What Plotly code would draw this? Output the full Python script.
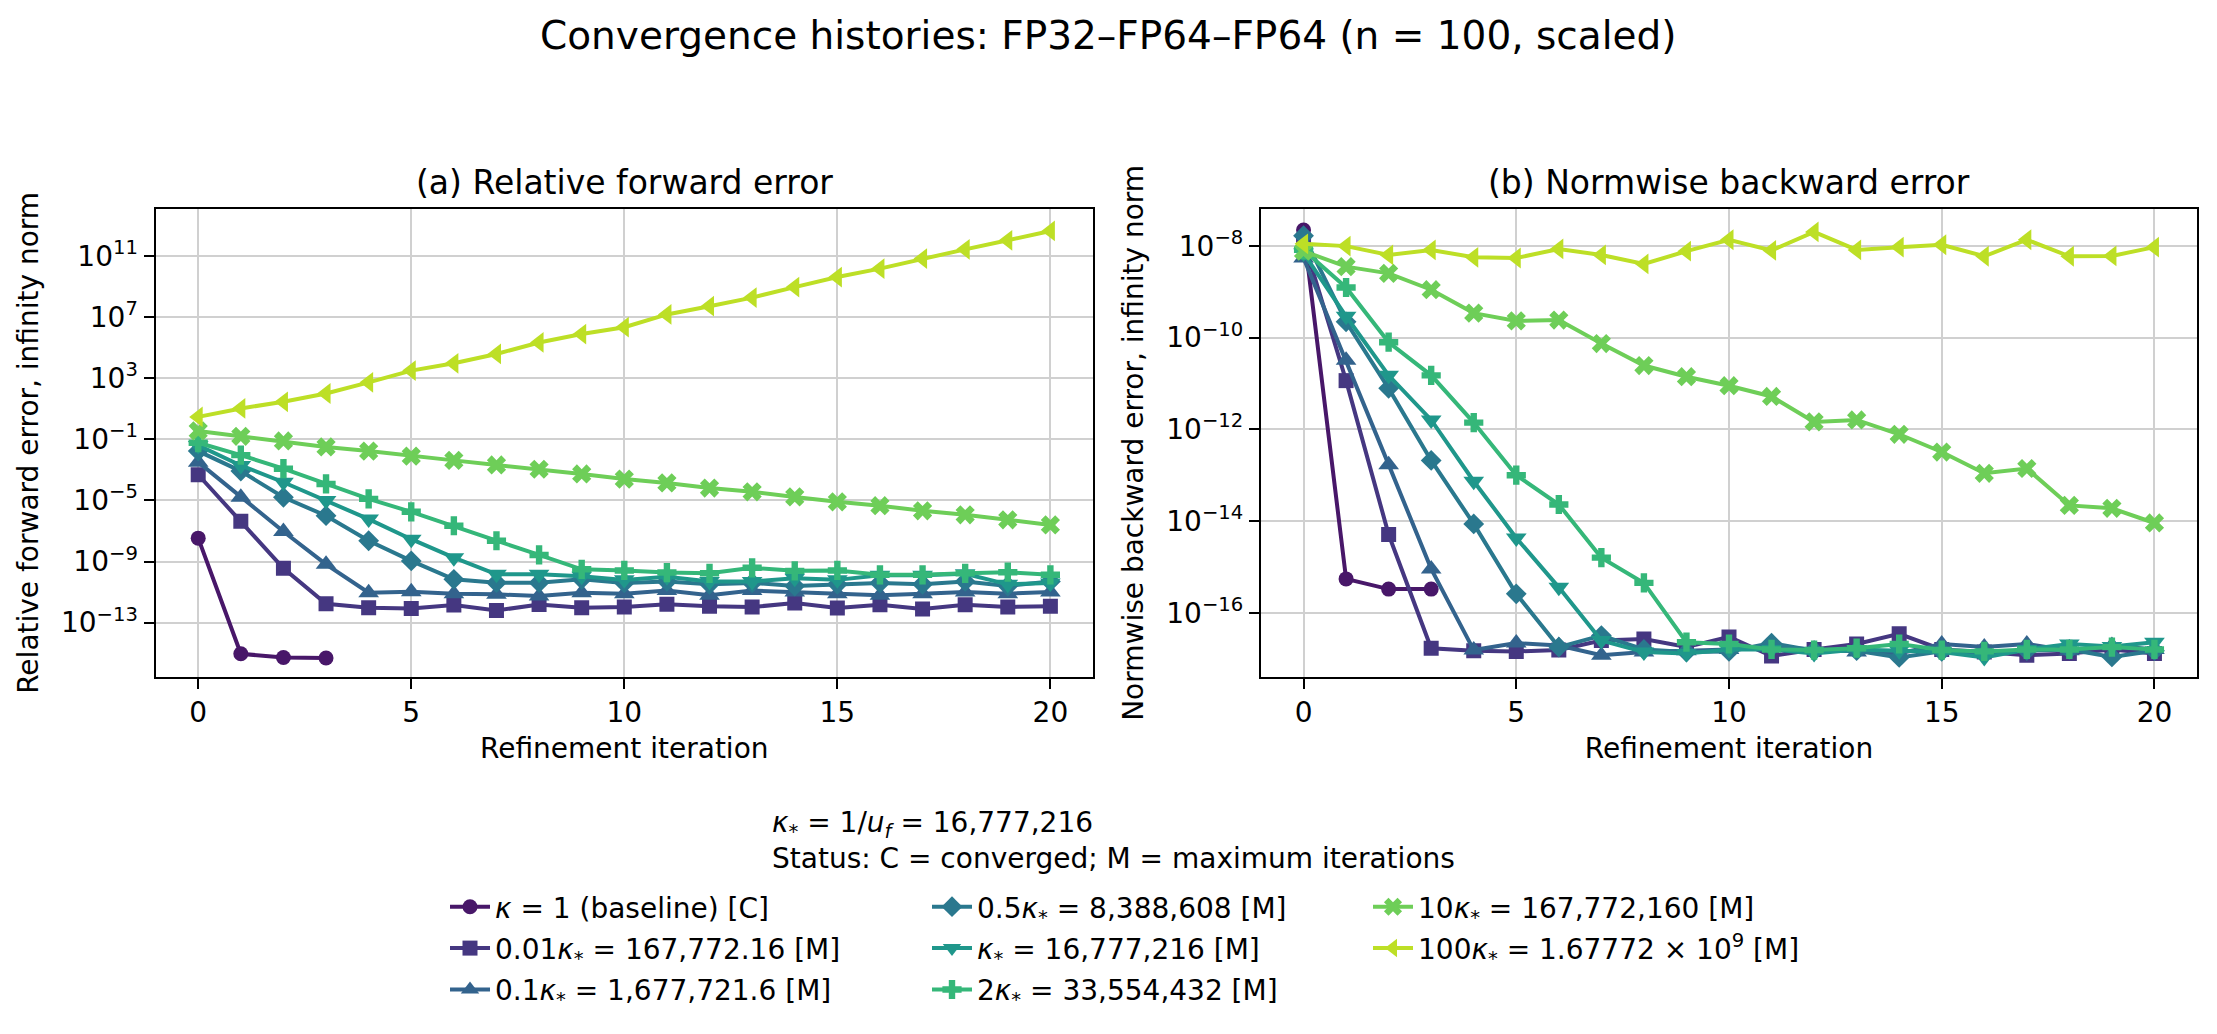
import plotly.graph_objects as go

# Refinement iterations
iters = list(range(21))
iters_base = [0, 1, 2, 3]

# (a) relative forward error, infinity norm
fwd_base = [3.4e-08, 9.1e-16, 5.2e-16, 4.8e-16]
fwd_001 = [4.8e-04, 4.3e-07, 3.6e-10, 1.7e-12, 9.3e-13, 8.5e-13, 1.4e-12, 6.2e-13, 1.55e-12, 9.3e-13,
           1.05e-12, 1.6e-12, 1.2e-12, 1.05e-12, 1.9e-12, 9.1e-13, 1.5e-12, 7.8e-13, 1.5e-12, 1.05e-12, 1.2e-12]
fwd_01 = [3.2e-03, 1.6e-05, 9.3e-08, 6.6e-10, 9.1e-12, 1.05e-11, 7.8e-12, 7.1e-12, 5.5e-12, 9.1e-12,
          7.9e-12, 1.26e-11, 6.3e-12, 1.26e-11, 1.0e-11, 7.9e-12, 6.3e-12, 7.9e-12, 1.0e-11, 7.9e-12, 1.0e-11]
fwd_05 = [1.7e-02, 8.3e-04, 1.6e-05, 1.0e-06, 2.3e-08, 1.1e-09, 6.8e-11, 4.1e-11, 4.1e-11, 6.8e-11,
          4.0e-11, 5.0e-11, 3.2e-11, 4.0e-11, 2.5e-11, 3.2e-11, 4.0e-11, 3.2e-11, 5.0e-11, 2.5e-11, 5.0e-11]
fwd_1 = [4.0e-02, 1.95e-03, 1.55e-04, 9.8e-06, 6.0e-07, 2.9e-08, 1.8e-09, 1.45e-10, 1.45e-10, 1.1e-10,
         6.3e-11, 1.0e-10, 5.0e-11, 5.0e-11, 7.9e-11, 6.3e-11, 1.26e-10, 1.26e-10, 1.6e-10, 3.2e-11, 4.0e-11]
fwd_2 = [6.0e-02, 9.3e-03, 1.2e-03, 1.2e-04, 1.26e-05, 1.8e-06, 2.2e-07, 2.3e-08, 2.7e-09, 3.1e-10,
         2.6e-10, 1.9e-10, 1.7e-10, 3.9e-10, 2.45e-10, 2.6e-10, 1.35e-10, 1.35e-10, 1.7e-10, 2.0e-10, 1.35e-10]
fwd_10 = [0.355, 0.158, 7.8e-02, 3.2e-02, 1.7e-02, 7.9e-03, 4.2e-03, 2.1e-03, 1.1e-03, 5.4e-04,
          2.5e-04, 1.4e-04, 6.5e-05, 3.7e-05, 1.7e-05, 8.1e-06, 4.5e-06, 2.1e-06, 1.15e-06, 5.4e-07, 2.5e-07]
fwd_100 = [2.95, 10.5, 28.8, 100.0, 537.0, 3.16e03, 9.5e03, 3.9e04, 2.2e05, 7.8e05,
           2.2e06, 1.5e07, 5.2e07, 1.9e08, 9.3e08, 4.2e09, 1.5e10, 6.8e10, 2.75e11, 1.07e12, 4.4e12]

# (b) normwise backward error, infinity norm
bwd_base = [2.2e-08, 5.5e-16, 3.3e-16, 3.3e-16]
bwd_001 = [1.3e-08, 1.15e-11, 5.1e-15, 1.7e-17, 1.5e-17, 1.45e-17, 1.55e-17, 2.5e-17, 2.7e-17, 1.8e-17,
           3.0e-17, 1.15e-17, 1.6e-17, 2.1e-17, 3.5e-17, 1.6e-17, 1.4e-17, 1.2e-17, 1.3e-17, 1.6e-17, 1.3e-17]
bwd_01 = [5.4e-09, 3.2e-11, 1.7e-13, 9.1e-16, 1.55e-17, 2.2e-17, 1.95e-17, 1.2e-17, 1.4e-17, 1.5e-17,
          1.6e-17, 1.8e-17, 1.6e-17, 1.4e-17, 1.3e-17, 2.1e-17, 1.8e-17, 2.1e-17, 1.5e-17, 1.95e-17, 1.6e-17]
bwd_05 = [1.65e-08, 2.2e-10, 7.8e-12, 2.1e-13, 8.7e-15, 2.6e-16, 1.8e-17, 3.2e-17, 1.6e-17, 1.4e-17,
          1.45e-17, 2.2e-17, 1.5e-17, 1.5e-17, 1.07e-17, 1.45e-17, 1.3e-17, 1.5e-17, 1.6e-17, 1.1e-17, 1.5e-17]
bwd_1 = [6.9e-09, 2.9e-10, 1.5e-11, 1.6e-12, 7.4e-14, 4.3e-15, 3.6e-16, 2.5e-17, 1.4e-17, 1.3e-17,
         1.6e-17, 1.6e-17, 1.3e-17, 1.6e-17, 1.5e-17, 1.4e-17, 1.07e-17, 1.6e-17, 2.1e-17, 1.85e-17, 2.3e-17]
bwd_2 = [8.1e-09, 1.23e-09, 7.9e-11, 1.5e-11, 1.4e-12, 1.0e-13, 2.3e-14, 1.6e-15, 4.5e-16, 2.3e-17,
         2.1e-17, 1.6e-17, 1.55e-17, 1.7e-17, 2.1e-17, 1.55e-17, 1.45e-17, 1.6e-17, 1.6e-17, 1.8e-17, 1.6e-17]
bwd_10 = [7.6e-09, 3.5e-09, 2.5e-09, 1.1e-09, 3.4e-10, 2.3e-10, 2.4e-10, 7.4e-11, 2.45e-11, 1.4e-11,
          8.9e-12, 5.2e-12, 1.45e-12, 1.6e-12, 7.8e-13, 3.2e-13, 1.1e-13, 1.4e-13, 2.2e-14, 1.9e-14, 9.1e-15]
bwd_100 = [1.1e-08, 9.8e-09, 6.3e-09, 8.1e-09, 5.6e-09, 5.4e-09, 8.5e-09, 6.3e-09, 4.0e-09, 7.6e-09,
           1.35e-08, 7.9e-09, 2.0e-08, 8.1e-09, 9.3e-09, 1.05e-08, 5.9e-09, 1.35e-08, 5.9e-09, 6.0e-09, 9.3e-09]

labels = [
    "<i>κ</i> = 1 (baseline) [C]",
    "0.01<i>κ</i><sub>*</sub> = 167,772.16 [M]",
    "0.1<i>κ</i><sub>*</sub> = 1,677,721.6 [M]",
    "0.5<i>κ</i><sub>*</sub> = 8,388,608 [M]",
    "<i>κ</i><sub>*</sub> = 16,777,216 [M]",
    "2<i>κ</i><sub>*</sub> = 33,554,432 [M]",
    "10<i>κ</i><sub>*</sub> = 167,772,160 [M]",
    "100<i>κ</i><sub>*</sub> = 1.67772 × 10<sup>9</sup> [M]",
]
colors = ["#481769", "#453781", "#33638d", "#2a788e", "#1f978b", "#35b779", "#6ece58", "#bddf26"]
symbols = ["circle", "square", "triangle-up", "diamond", "triangle-down", "cross", "x", "triangle-left"]
msizes = [15, 15, 18, 16, 18, 16, 17, 18]
legends = ["legend", "legend", "legend", "legend2", "legend2", "legend2", "legend3", "legend3"]

fwd = [fwd_base, fwd_001, fwd_01, fwd_05, fwd_1, fwd_2, fwd_10, fwd_100]
bwd = [bwd_base, bwd_001, bwd_01, bwd_05, bwd_1, bwd_2, bwd_10, bwd_100]

left_ticks = [1e-13, 1e-9, 1e-5, 1e-1, 1e3, 1e7, 1e11]
left_ticktext = ["10<sup>−13</sup>", "10<sup>−9</sup>", "10<sup>−5</sup>", "10<sup>−1</sup>",
                 "10<sup>3</sup>", "10<sup>7</sup>", "10<sup>11</sup>"]
right_ticks = [1e-16, 1e-14, 1e-12, 1e-10, 1e-8]
right_ticktext = ["10<sup>−16</sup>", "10<sup>−14</sup>", "10<sup>−12</sup>", "10<sup>−10</sup>", "10<sup>−8</sup>"]

FONT = "DejaVu Sans"
W, H = 2217, 1034

fig = go.Figure()

for i in range(8):
    xs = iters_base if i == 0 else iters
    style = dict(mode="lines+markers", line=dict(color=colors[i], width=4),
                 marker=dict(symbol=symbols[i], size=msizes[i], color=colors[i], line=dict(width=0)),
                 legendgroup=f"g{i}")
    fig.add_trace(go.Scatter(x=xs, y=fwd[i], name=labels[i], xaxis="x", yaxis="y",
                             legend=legends[i], **style))
    fig.add_trace(go.Scatter(x=xs, y=bwd[i], name=labels[i], xaxis="x2", yaxis="y2",
                             showlegend=False, **style))

axis_common = dict(showline=True, mirror=True, linecolor="black", linewidth=2.2,
                   ticks="outside", ticklen=10, tickwidth=2.2, tickcolor="black",
                   showgrid=True, gridcolor="#d0d0d0", gridwidth=2.2, zeroline=False,
                   tickfont=dict(family=FONT, size=28, color="black"))

legend_common = dict(xanchor="left", yanchor="top", bgcolor="rgba(0,0,0,0)",
                     font=dict(size=28), tracegroupgap=2, itemwidth=40)

fig.update_layout(
    width=W, height=H,
    margin=dict(l=0, r=0, t=0, b=0),
    paper_bgcolor="white", plot_bgcolor="white",
    font=dict(family=FONT, size=28, color="black"),
    xaxis=dict(domain=[155.6 / W, 1093 / W], anchor="y", range=[-1, 21],
               tickvals=[0, 5, 10, 15, 20],
               title=dict(text="Refinement iteration", standoff=10, font=dict(size=28)),
               **axis_common),
    yaxis=dict(domain=[(H - 676.7) / H, (H - 209) / H], anchor="x", type="log",
               range=[-16.54, 14.08], tickvals=left_ticks, ticktext=left_ticktext,
               title=dict(text="Relative forward error, infinity norm", standoff=14, font=dict(size=28)),
               **axis_common),
    xaxis2=dict(domain=[1261 / W, 2197 / W], anchor="y2", range=[-1, 21],
                tickvals=[0, 5, 10, 15, 20],
                title=dict(text="Refinement iteration", standoff=10, font=dict(size=28)),
                **axis_common),
    yaxis2=dict(domain=[(H - 676.7) / H, (H - 209) / H], anchor="x2", type="log",
                range=[-17.39, -7.20], tickvals=right_ticks, ticktext=right_ticktext,
                title=dict(text="Normwise backward error, infinity norm", standoff=14, font=dict(size=28)),
                **axis_common),
    legend=dict(x=445 / W, y=(H - 882) / H, **legend_common),
    legend2=dict(x=927 / W, y=(H - 882) / H, **legend_common),
    legend3=dict(x=1368 / W, y=(H - 882) / H, **legend_common),
    annotations=[
        dict(text="Convergence histories: FP32–FP64–FP64 (n = 100, scaled)",
             x=0.5, y=(H - 35) / H, xref="paper", yref="paper", showarrow=False,
             xanchor="center", yanchor="middle", font=dict(size=39)),
        dict(text="(a) Relative forward error", x=(155.6 + 1093) / 2 / W, y=(H - 182.7) / H,
             xref="paper", yref="paper", showarrow=False, xanchor="center", yanchor="middle",
             font=dict(size=33)),
        dict(text="(b) Normwise backward error", x=(1261 + 2197) / 2 / W, y=(H - 182.7) / H,
             xref="paper", yref="paper", showarrow=False, xanchor="center", yanchor="middle",
             font=dict(size=33)),
        dict(text="<i>κ</i><sub>*</sub> = 1/<i>u</i><sub><i>f</i></sub> = 16,777,216",
             x=770 / W, y=(H - 824) / H, xref="paper", yref="paper", showarrow=False,
             xanchor="left", yanchor="middle", font=dict(size=28)),
        dict(text="Status: C = converged; M = maximum iterations",
             x=770 / W, y=(H - 858) / H, xref="paper", yref="paper", showarrow=False,
             xanchor="left", yanchor="middle", font=dict(size=28)),
    ],
)

fig.write_html("out.html", config={"displayModeBar": False},
               post_script="document.body.style.margin='0';")
